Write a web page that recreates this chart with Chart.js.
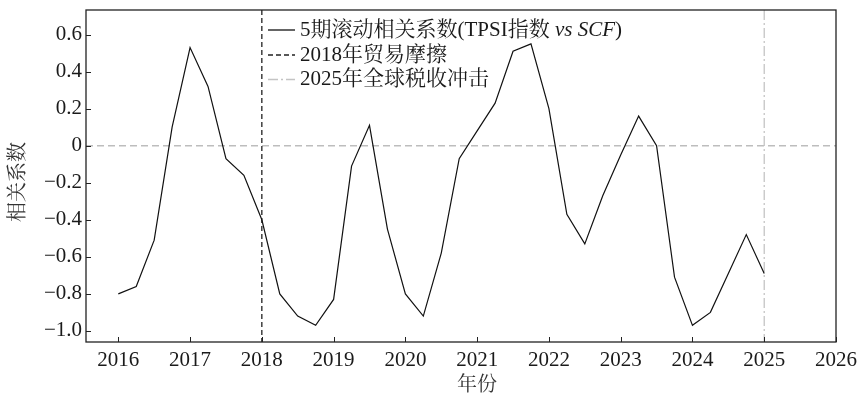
<!DOCTYPE html>
<html>
<head>
<meta charset="utf-8">
<script src="https://cdn.jsdelivr.net/npm/chart.js@4.4.1/dist/chart.umd.min.js"></script>
<style>
  html, body { margin: 0; padding: 0; background: #fff; }
  #wrap { width: 857px; height: 398px; position: relative; }
</style>
</head>
<body>
<div id="wrap"><canvas id="c" width="857" height="398"></canvas></div>
<script>
// Quarterly periods (decimal years) of the 5-period rolling correlation
const periods = [
  2016.00, 2016.25, 2016.50, 2016.75,
  2017.00, 2017.25, 2017.50, 2017.75,
  2018.00, 2018.25, 2018.50, 2018.75,
  2019.00, 2019.25, 2019.50, 2019.75,
  2020.00, 2020.25, 2020.50, 2020.75,
  2021.00, 2021.25, 2021.50, 2021.75,
  2022.00, 2022.25, 2022.50, 2022.75,
  2023.00, 2023.25, 2023.50, 2023.75,
  2024.00, 2024.25, 2024.50, 2024.75,
  2025.00
];

// 5-period rolling correlation, TPSI index vs SCF
const rollingCorr = [
  -0.80, -0.76, -0.51, 0.10,
   0.53,  0.32, -0.07, -0.16,
  -0.40, -0.80, -0.92, -0.97,
  -0.83, -0.11,  0.11, -0.45,
  -0.80, -0.92, -0.58, -0.07,
   0.08,  0.23,  0.51,  0.55,
   0.20, -0.37, -0.53, -0.27,
  -0.05,  0.16,  0.00, -0.71,
  -0.97, -0.90, -0.69, -0.48,
  -0.69
];

// Event markers
const tradeFrictionYear = 2018;
const tariffShockYear = 2025;

// Axis ticks and ranges
const xTickYears = [2016, 2017, 2018, 2019, 2020, 2021, 2022, 2023, 2024, 2025, 2026];
const yTickValues = [-1.0, -0.8, -0.6, -0.4, -0.2, 0, 0.2, 0.4, 0.6];
const xRange = [2015.55, 2026];
const yRange = [-1.06, 0.733];

// Text
const xAxisTitle = '年份';
const yAxisTitle = '相关系数';
const legendSeries = ['5期滚动相关系数(TPSI指数 ', 'vs SCF', ')'];
const legendFriction = '2018年贸易摩擦';
const legendTariff = '2025年全球税收冲击';

const SERIF = '"Liberation Serif", "Noto Serif CJK SC", "Noto Sans CJK SC", serif';
const INK = '#1a1a1a';

function fmtY(v) {
  if (Math.abs(v) < 1e-9) return '0';
  return (v < 0 ? '\u2212' : '') + Math.abs(v).toFixed(1);
}

const decorations = {
  id: 'decorations',
  beforeDatasetsDraw(chart) {
    const { ctx, chartArea: a, scales: { x, y } } = chart;
    ctx.save();
    ctx.lineWidth = 1.3;
    // zero reference line
    ctx.strokeStyle = '#bdbdbd';
    ctx.setLineDash([7, 4]);
    const y0 = y.getPixelForValue(0);
    ctx.beginPath(); ctx.moveTo(a.left, y0); ctx.lineTo(a.right, y0); ctx.stroke();
    // 2018 trade friction
    ctx.strokeStyle = '#222';
    ctx.setLineDash([5, 3]);
    const xf = x.getPixelForValue(tradeFrictionYear);
    ctx.beginPath(); ctx.moveTo(xf, a.top); ctx.lineTo(xf, a.bottom); ctx.stroke();
    // 2025 tariff shock
    ctx.strokeStyle = '#c4c4c4';
    ctx.setLineDash([10, 3, 2, 3]);
    const xt = x.getPixelForValue(tariffShockYear);
    ctx.beginPath(); ctx.moveTo(xt, a.top); ctx.lineTo(xt, a.bottom); ctx.stroke();
    ctx.restore();
  },
  afterDatasetsDraw(chart) {
    const { ctx, chartArea: a, scales: { x, y } } = chart;
    ctx.save();
    ctx.strokeStyle = '#222';
    ctx.lineWidth = 1.3;
    ctx.setLineDash([]);
    ctx.strokeRect(a.left, a.top, a.right - a.left, a.bottom - a.top);
    // inward tick marks
    ctx.lineWidth = 1;
    const tl = 5;
    x.ticks.forEach(t => {
      const px = Math.round(x.getPixelForValue(t.value)) + 0.5;
      ctx.beginPath(); ctx.moveTo(px, a.bottom); ctx.lineTo(px, a.bottom - tl); ctx.stroke();
    });
    y.ticks.forEach(t => {
      const py = Math.round(y.getPixelForValue(t.value)) + 0.5;
      ctx.beginPath(); ctx.moveTo(a.left, py); ctx.lineTo(a.left + tl, py); ctx.stroke();
    });
    ctx.restore();
  },
  afterDraw(chart) {
    const { ctx } = chart;
    ctx.save();
    // axis titles
    ctx.fillStyle = '#333';
    ctx.font = '20px ' + SERIF;
    ctx.textAlign = 'center';
    ctx.textBaseline = 'middle';
    ctx.fillText(xAxisTitle, 477, 386);
    ctx.translate(19, 182);
    ctx.rotate(-Math.PI / 2);
    ctx.fillText(yAxisTitle, 0, 0);
    ctx.restore();

    // legend
    ctx.save();
    ctx.textBaseline = 'middle';
    ctx.textAlign = 'left';
    ctx.fillStyle = INK;
    const sx0 = 268, sx1 = 295, tx = 300;
    const rows = [30, 55, 79.5];
    const fs = '21px ';
    ctx.lineWidth = 1.3;
    // series row
    ctx.strokeStyle = '#111'; ctx.setLineDash([]);
    ctx.beginPath(); ctx.moveTo(sx0, rows[0]); ctx.lineTo(sx1, rows[0]); ctx.stroke();
    let cx = tx;
    ctx.font = fs + SERIF;
    ctx.fillText(legendSeries[0], cx, rows[0]);
    cx += ctx.measureText(legendSeries[0]).width;
    ctx.font = 'italic ' + fs + SERIF;
    ctx.fillText(legendSeries[1], cx, rows[0]);
    cx += ctx.measureText(legendSeries[1]).width;
    ctx.font = fs + SERIF;
    ctx.fillText(legendSeries[2], cx, rows[0]);
    // friction row
    ctx.strokeStyle = '#222'; ctx.setLineDash([5, 3]);
    ctx.beginPath(); ctx.moveTo(sx0, rows[1]); ctx.lineTo(sx1, rows[1]); ctx.stroke();
    ctx.fillText(legendFriction, tx, rows[1]);
    // tariff row
    ctx.strokeStyle = '#c4c4c4'; ctx.setLineDash([10, 3, 2, 3]);
    ctx.beginPath(); ctx.moveTo(sx0, rows[2]); ctx.lineTo(sx1, rows[2]); ctx.stroke();
    ctx.fillText(legendTariff, tx, rows[2]);
    ctx.restore();
  }
};

new Chart(document.getElementById('c'), {
  type: 'line',
  data: {
    datasets: [{
      label: legendSeries.join(''),
      data: periods.map((p, i) => ({ x: p, y: rollingCorr[i] })),
      borderColor: '#111',
      borderWidth: 1.2,
      pointRadius: 0,
      tension: 0,
      fill: false
    }]
  },
  options: {
    responsive: false,
    devicePixelRatio: 1,
    animation: false,
    layout: { padding: { top: 10, right: 21, left: 0, bottom: 0 } },
    plugins: { legend: { display: false }, tooltip: { enabled: false } },
    scales: {
      x: {
        type: 'linear',
        min: xRange[0],
        max: xRange[1],
        afterBuildTicks: s => { s.ticks = xTickYears.map(v => ({ value: v })); },
        afterFit: s => { s.height = 56; s.paddingLeft = 0; s.paddingRight = 0; },
        grid: { display: false, drawTicks: false },
        border: { display: false },
        ticks: {
          autoSkip: false, maxRotation: 0, padding: 6,
          color: INK, font: { family: SERIF, size: 21 },
          callback: v => String(v)
        }
      },
      y: {
        type: 'linear',
        min: yRange[0],
        max: yRange[1],
        afterBuildTicks: s => { s.ticks = yTickValues.map(v => ({ value: v })); },
        afterFit: s => { s.width = 86; s.paddingTop = 0; s.paddingBottom = 0; },
        grid: { display: false, drawTicks: false },
        border: { display: false },
        ticks: {
          autoSkip: false, padding: 4,
          color: INK, font: { family: SERIF, size: 21 },
          callback: v => fmtY(v)
        }
      }
    }
  },
  plugins: [decorations]
});
</script>
</body>
</html>
